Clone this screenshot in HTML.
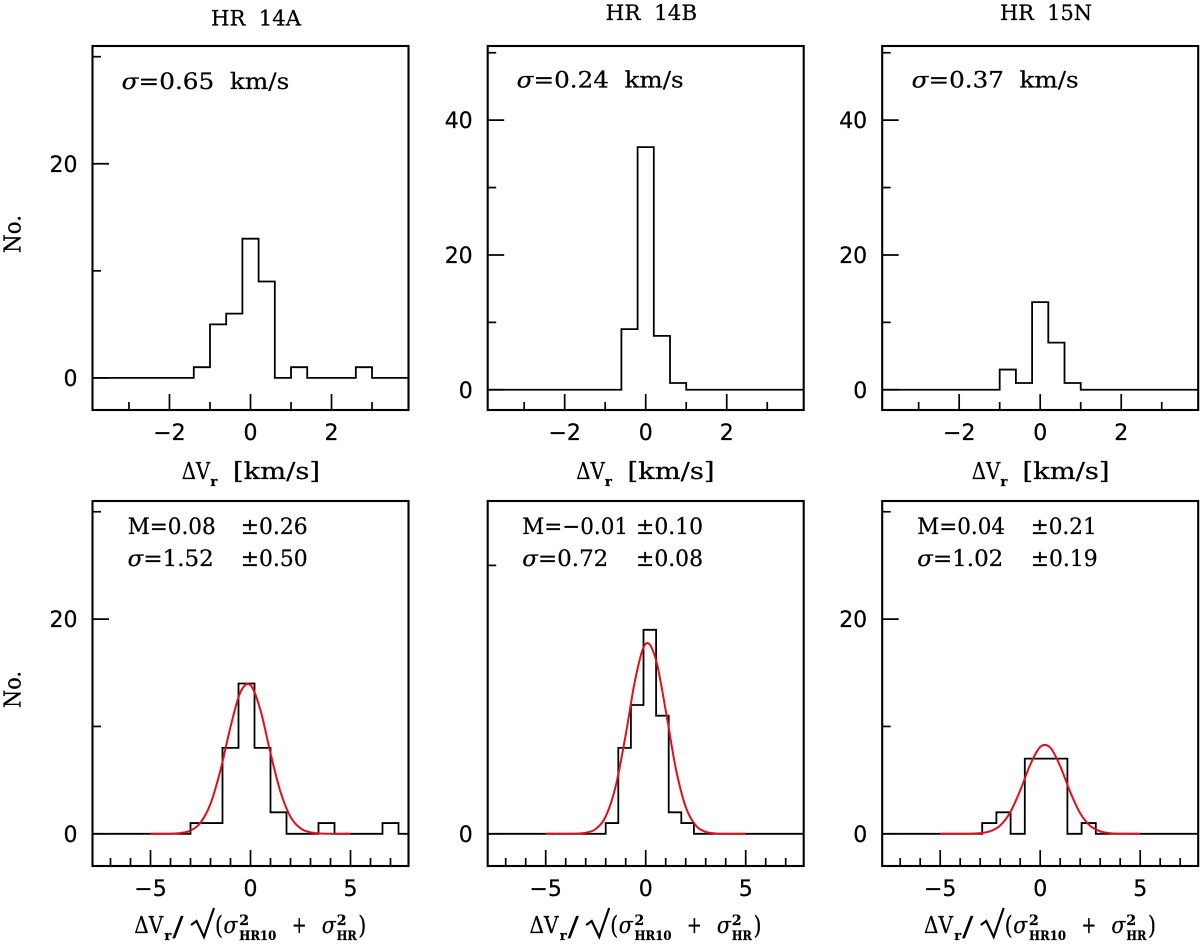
<!DOCTYPE html>
<html lang="en">
<head>
<meta charset="utf-8">
<title>Radial velocity difference histograms</title>
<style>
html,body{margin:0;padding:0;background:#fff;}
svg{display:block;}
text{font-family:"DejaVu Serif","Liberation Serif",serif;fill:#000;stroke:#000;stroke-width:0.25px;}
.tick{font-family:"DejaVu Sans","Liberation Sans",sans-serif;font-size:22px;}
.big{font-size:23px;}
.title{font-size:21px;}
.sub{font-size:13px;font-weight:bold;}
.sup{font-size:14px;font-weight:bold;}
.ann{font-size:22.5px;}
</style>
</head>
<body>
<svg id="chart" xmlns="http://www.w3.org/2000/svg" width="1200" height="946" viewBox="0 0 1200 946">
  <rect width="1200" height="946" fill="#fff"/>

  <text class="title" x="211" y="25.5" textLength="90" lengthAdjust="spacingAndGlyphs">HR&#160;&#160;14A</text>
  <text class="title" x="605.7" y="20" textLength="91.5" lengthAdjust="spacingAndGlyphs">HR&#160;&#160;14B</text>
  <text class="title" x="1000" y="20" textLength="92" lengthAdjust="spacingAndGlyphs">HR&#160;&#160;15N</text>

  <text class="big" transform="translate(20.5,253) rotate(-90)" textLength="38" lengthAdjust="spacingAndGlyphs">No.</text>
  <text class="big" transform="translate(20.5,708) rotate(-90)" textLength="37" lengthAdjust="spacingAndGlyphs">No.</text>

  <text class="ann" x="121.7" y="89" textLength="167.6" lengthAdjust="spacingAndGlyphs"><tspan font-style="italic">σ</tspan>=0.65&#160;&#160;km/s</text>
  <text class="ann" x="516.7" y="87.3" textLength="167" lengthAdjust="spacingAndGlyphs"><tspan font-style="italic">σ</tspan>=0.24&#160;&#160;km/s</text>
  <text class="ann" x="911.7" y="87.3" textLength="167" lengthAdjust="spacingAndGlyphs"><tspan font-style="italic">σ</tspan>=0.37&#160;&#160;km/s</text>

  <g>
    <text class="ann" x="127.7" y="534" textLength="88" lengthAdjust="spacingAndGlyphs">M=0.08</text>
    <text class="ann" x="240.7" y="534" textLength="67" lengthAdjust="spacingAndGlyphs">±0.26</text>
    <text class="ann" x="127.7" y="566" textLength="86" lengthAdjust="spacingAndGlyphs"><tspan font-style="italic">σ</tspan>=1.52</text>
    <text class="ann" x="240.7" y="566" textLength="67" lengthAdjust="spacingAndGlyphs">±0.50</text>
  </g>
  <g>
    <text class="ann" x="522.3" y="534" textLength="105.7" lengthAdjust="spacingAndGlyphs">M=−0.01</text>
    <text class="ann" x="636" y="534" textLength="67" lengthAdjust="spacingAndGlyphs">±0.10</text>
    <text class="ann" x="522.3" y="566" textLength="86" lengthAdjust="spacingAndGlyphs"><tspan font-style="italic">σ</tspan>=0.72</text>
    <text class="ann" x="636" y="566" textLength="67" lengthAdjust="spacingAndGlyphs">±0.08</text>
  </g>
  <g>
    <text class="ann" x="917.3" y="534" textLength="87.7" lengthAdjust="spacingAndGlyphs">M=0.04</text>
    <text class="ann" x="1030.7" y="534" textLength="66" lengthAdjust="spacingAndGlyphs">±0.21</text>
    <text class="ann" x="917.3" y="566" textLength="86" lengthAdjust="spacingAndGlyphs"><tspan font-style="italic">σ</tspan>=1.02</text>
    <text class="ann" x="1030.7" y="566" textLength="67" lengthAdjust="spacingAndGlyphs">±0.19</text>
  </g>

  <g transform="translate(92.5,0)">
    <text class="big" x="89.2" y="479" textLength="28.5" lengthAdjust="spacingAndGlyphs">ΔV</text><text class="sub" x="118" y="486">r</text><text class="big" font-size="24" x="140.5" y="479" textLength="87" lengthAdjust="spacingAndGlyphs">[km/s]</text>
  </g>
  <g transform="translate(487.7,0)">
    <text class="big" x="88.5" y="479" textLength="28.5" lengthAdjust="spacingAndGlyphs">ΔV</text><text class="sub" x="117.3" y="486">r</text><text class="big" font-size="24" x="139.8" y="479" textLength="87" lengthAdjust="spacingAndGlyphs">[km/s]</text>
  </g>
  <g transform="translate(882.2,0)">
    <text class="big" x="89.5" y="479" textLength="28.5" lengthAdjust="spacingAndGlyphs">ΔV</text><text class="sub" x="118.3" y="486">r</text><text class="big" font-size="24" x="140.3" y="479" textLength="87" lengthAdjust="spacingAndGlyphs">[km/s]</text>
  </g>

  <g transform="translate(92.5,0)">
    <text class="big" x="41.8" y="933" textLength="29" lengthAdjust="spacingAndGlyphs">ΔV</text><text class="sub" x="72" y="940">r</text><text class="big" style="font-size:27px" x="80" y="936" textLength="11" lengthAdjust="spacingAndGlyphs">/</text>
    <polyline points="98.5,925 104,921 111.5,937 121.5,908" fill="none" stroke="#000" stroke-width="2.2"/>
    <text class="big" style="font-size:25px" x="122.5" y="934" textLength="8" lengthAdjust="spacingAndGlyphs">(</text><text class="big" font-style="italic" x="131" y="933" textLength="14" lengthAdjust="spacingAndGlyphs">σ</text><text class="sup" x="146.8" y="925">2</text><text class="sub" x="146.8" y="940" textLength="37" lengthAdjust="spacingAndGlyphs">HR10</text>
    <text class="big" x="199.2" y="933" textLength="15" lengthAdjust="spacingAndGlyphs">+</text><text class="big" font-style="italic" x="229.2" y="933" textLength="14" lengthAdjust="spacingAndGlyphs">σ</text><text class="sup" x="244.2" y="925">2</text><text class="sub" x="244.2" y="940" textLength="20" lengthAdjust="spacingAndGlyphs">HR</text><text class="big" style="font-size:25px" x="265.8" y="934" textLength="8" lengthAdjust="spacingAndGlyphs">)</text>
  </g>
  <g transform="translate(487.7,0)">
    <text class="big" x="41.8" y="933" textLength="29" lengthAdjust="spacingAndGlyphs">ΔV</text><text class="sub" x="72" y="940">r</text><text class="big" style="font-size:27px" x="80" y="936" textLength="11" lengthAdjust="spacingAndGlyphs">/</text>
    <polyline points="98.5,925 104,921 111.5,937 121.5,908" fill="none" stroke="#000" stroke-width="2.2"/>
    <text class="big" style="font-size:25px" x="122.5" y="934" textLength="8" lengthAdjust="spacingAndGlyphs">(</text><text class="big" font-style="italic" x="131" y="933" textLength="14" lengthAdjust="spacingAndGlyphs">σ</text><text class="sup" x="146.8" y="925">2</text><text class="sub" x="146.8" y="940" textLength="37" lengthAdjust="spacingAndGlyphs">HR10</text>
    <text class="big" x="199.2" y="933" textLength="15" lengthAdjust="spacingAndGlyphs">+</text><text class="big" font-style="italic" x="229.2" y="933" textLength="14" lengthAdjust="spacingAndGlyphs">σ</text><text class="sup" x="244.2" y="925">2</text><text class="sub" x="244.2" y="940" textLength="20" lengthAdjust="spacingAndGlyphs">HR</text><text class="big" style="font-size:25px" x="265.8" y="934" textLength="8" lengthAdjust="spacingAndGlyphs">)</text>
  </g>
  <g transform="translate(882.2,0)">
    <text class="big" x="41.8" y="933" textLength="29" lengthAdjust="spacingAndGlyphs">ΔV</text><text class="sub" x="72" y="940">r</text><text class="big" style="font-size:27px" x="80" y="936" textLength="11" lengthAdjust="spacingAndGlyphs">/</text>
    <polyline points="98.5,925 104,921 111.5,937 121.5,908" fill="none" stroke="#000" stroke-width="2.2"/>
    <text class="big" style="font-size:25px" x="122.5" y="934" textLength="8" lengthAdjust="spacingAndGlyphs">(</text><text class="big" font-style="italic" x="131" y="933" textLength="14" lengthAdjust="spacingAndGlyphs">σ</text><text class="sup" x="146.8" y="925">2</text><text class="sub" x="146.8" y="940" textLength="37" lengthAdjust="spacingAndGlyphs">HR10</text>
    <text class="big" x="199.2" y="933" textLength="15" lengthAdjust="spacingAndGlyphs">+</text><text class="big" font-style="italic" x="229.2" y="933" textLength="14" lengthAdjust="spacingAndGlyphs">σ</text><text class="sup" x="244.2" y="925">2</text><text class="sub" x="244.2" y="940" textLength="20" lengthAdjust="spacingAndGlyphs">HR</text><text class="big" style="font-size:25px" x="265.8" y="934" textLength="8" lengthAdjust="spacingAndGlyphs">)</text>
  </g>
</svg>

<script>
// Histogram counts per bin
const topBinStart = -3.8;
const topBinWidth = 0.4;
const countsTopA = [0,0,0,0,0,0,1,5,6,13,9,0,1,0,0,0,1,0,0];
const countsTopB = [0,0,0,0,0,0,0,0,9,36,8,1,0,0,0,0,0,0,0];
const countsTopC = [0,0,0,0,0,0,0,3,1,13,7,1,0,0,0,0,0,0,0];

const bottomStartA = -7.8;
const bottomWidthA = 0.8;
const countsBottomA = [0,0,0,0,0,0,1,1,8,14,8,2,0,0,1,0,0,0,1,0];
const bottomStartB = -7.67;
const bottomWidthB = 0.63;
const countsBottomB = [0,0,0,0,0,0,0,0,0,1,8,12,19,11,2,1,0,0,0,0,0,0,0,0];
const bottomStartC = -7.87;
const bottomWidthC = 0.71;
const countsBottomC = [0,0,0,0,0,0,0,1,2,0,7,7,7,0,1,0,0,0,0,0,0,0];

// Fitted curves, sampled by eye
const curveX = [-5,-4.5,-4,-3.5,-3,-2.5,-2,-1.5,-1,-0.5,0,0.5,1,1.5,2,2.5,3,3.5,4,4.5,5];
const curveA = [0,0,0.01,0.07,0.30,1.04,2.8,5.93,9.96,13.2,13.85,11.5,7.5,3.9,1.58,0.51,0.13,0.03,0,0,0];
const curveB = [0,0,0,0.02,0.10,0.45,1.62,4.43,9.22,14.6,17.7,16.3,11.5,6.13,2.5,0.78,0.18,0.03,0,0,0];
const curveC = [0,0,0,0.01,0.06,0.24,0.78,2.0,4.04,6.43,8.09,8.03,6.3,3.9,1.91,0.74,0.23,0.05,0.01,0,0];

// Axis ticks and labels
const topXMajor = [-2,0,2];
const topXMinor = [-3,-1,1,3];
const bottomXMajor = [-5,0,5];
const bottomXMinor = [-7,-6,-4,-3,-2,-1,1,2,3,4,6,7];
const yMajorSmall = [0,20];
const yMinorSmall = [10,30];
const yMajorLarge = [0,20,40];
const yMinorLarge = [10,30,50];
const yMajorOddBottom = [0];
const yMinorOddBottom = [25];

const NS = 'http://www.w3.org/2000/svg';
const svg = document.getElementById('chart');

function mk(tag, attrs, parent) {
  const node = document.createElementNS(NS, tag);
  for (const k in attrs) node.setAttribute(k, attrs[k]);
  parent.appendChild(node);
  return node;
}

function fmt(v) { return (v < 0 ? '\u2212' : '') + Math.abs(v); }

function drawPanel(cfg) {
  const W = 316;
  const L = cfg.left;
  const T = cfg.top;
  const B = cfg.bottom;
  const xs = v => L + W / 2 + v * (W / (2 * cfg.xHalf));
  const ys = v => B - (v - cfg.yMin) * ((B - T) / (cfg.yMax - cfg.yMin));

  const g = mk('g', {}, svg);
  
  

  // minor and major y ticks
  cfg.yMinor.forEach(v => {
    const el = mk('line', {x1: L, x2: L + 8.5, y1: ys(v), y2: ys(v), stroke: '#000', 'stroke-width': 1.7}, g);
    
    
  });
  cfg.yMajor.forEach(v => {
    const el = mk('line', {x1: L, x2: L + 16.5, y1: ys(v), y2: ys(v), stroke: '#000', 'stroke-width': 1.7}, g);
    
    
    const label = mk('text', {x: L - 15, y: ys(v) + 8, 'text-anchor': 'end', class: 'tick'}, g);
    
    
    label.textContent = fmt(v);
  });

  // minor and major x ticks
  cfg.xMinor.forEach(v => {
    const el = mk('line', {x1: xs(v), x2: xs(v), y1: B, y2: B - 8, stroke: '#000', 'stroke-width': 1.7}, g);
    
    
  });
  cfg.xMajor.forEach(v => {
    const el = mk('line', {x1: xs(v), x2: xs(v), y1: B, y2: B - 16, stroke: '#000', 'stroke-width': 1.7}, g);
    
    
    const label = mk('text', {x: xs(v), y: B + 30, 'text-anchor': 'middle', class: 'tick'}, g);
    
    
    label.textContent = fmt(v);
  });

  // histogram outline
  const xEnd = cfg.xHalf;
  let d = 'M' + xs(-xEnd) + ' ' + ys(0);
  cfg.counts.forEach((c, i) => {
    const a = Math.max(-xEnd, cfg.binStart + i * cfg.binWidth);
    const b = Math.min(xEnd, cfg.binStart + (i + 1) * cfg.binWidth);
    if (b <= a) return;
    d += 'L' + xs(a) + ' ' + ys(c) + 'L' + xs(b) + ' ' + ys(c);
  });
  d += 'L' + xs(xEnd) + ' ' + ys(0);
  const hist = mk('path', {d: d, fill: 'none', stroke: '#000', 'stroke-width': 1.8, 'stroke-linejoin': 'miter'}, g);
  
  

  // fitted curve through sampled points (Catmull-Rom)
  if (cfg.curve) {
    const pts = curveX.map((x, i) => [xs(x), ys(cfg.curve[i])]);
    let c = 'M' + pts[0][0] + ' ' + pts[0][1];
    for (let i = 0; i < pts.length - 1; i++) {
      const p0 = pts[Math.max(0, i - 1)];
      const p1 = pts[i];
      const p2 = pts[i + 1];
      const p3 = pts[Math.min(pts.length - 1, i + 2)];
      c += 'C' + (p1[0] + (p2[0] - p0[0]) / 6) + ' ' + (p1[1] + (p2[1] - p0[1]) / 6) + ' ' +
           (p2[0] - (p3[0] - p1[0]) / 6) + ' ' + (p2[1] - (p3[1] - p1[1]) / 6) + ' ' + p2[0] + ' ' + p2[1];
    }
    const fit = mk('path', {d: c, fill: 'none', stroke: '#e0101a', 'stroke-width': 2}, g);
    
    
  }

  // frame
  const frame = mk('rect', {x: L, y: T, width: W, height: B - T, fill: 'none', stroke: '#000', 'stroke-width': 2.1}, g);
  
  
}

const TOP = {top: 46, bottom: 410, xHalf: 3.9, xMajor: topXMajor, xMinor: topXMinor, binStart: topBinStart, binWidth: topBinWidth};
const BOT = {top: 501, bottom: 866, xHalf: 7.9, xMajor: bottomXMajor, xMinor: bottomXMinor, yMin: -3, yMax: 31};

drawPanel(Object.assign({}, TOP, {name: 'panel-hr-14a-velocity', left: 92.5, yMin: -3, yMax: 31, yMajor: yMajorSmall, yMinor: yMinorSmall, counts: countsTopA}));
drawPanel(Object.assign({}, TOP, {name: 'panel-hr-14b-velocity', left: 487.7, yMin: -3, yMax: 51, yMajor: yMajorLarge, yMinor: yMinorLarge, counts: countsTopB}));
drawPanel(Object.assign({}, TOP, {name: 'panel-hr-15n-velocity', left: 882.2, yMin: -3, yMax: 51, yMajor: yMajorLarge, yMinor: yMinorLarge, counts: countsTopC}));
drawPanel(Object.assign({}, BOT, {name: 'panel-hr-14a-normalized', left: 92.5, yMajor: yMajorSmall, yMinor: yMinorSmall, counts: countsBottomA, binStart: bottomStartA, binWidth: bottomWidthA, curve: curveA}));
drawPanel(Object.assign({}, BOT, {name: 'panel-hr-14b-normalized', left: 487.7, yMajor: yMajorOddBottom, yMinor: yMinorOddBottom, counts: countsBottomB, binStart: bottomStartB, binWidth: bottomWidthB, curve: curveB}));
drawPanel(Object.assign({}, BOT, {name: 'panel-hr-15n-normalized', left: 882.2, yMajor: yMajorSmall, yMinor: yMinorSmall, counts: countsBottomC, binStart: bottomStartC, binWidth: bottomWidthC, curve: curveC}));
</script>
</body>
</html>
